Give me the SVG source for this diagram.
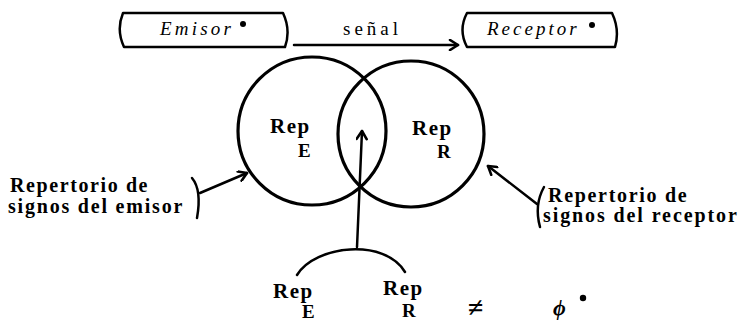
<svg xmlns="http://www.w3.org/2000/svg" width="742" height="323" viewBox="0 0 742 323">
<style>
.ln{fill:none;stroke:#000;stroke-width:2.5;stroke-linecap:round;stroke-linejoin:round}
.c{fill:none;stroke:#000;stroke-width:3.2}
.box{fill:none;stroke:#000;stroke-width:2.5;stroke-linejoin:round}
text{font-family:'Liberation Serif','DejaVu Serif',serif;fill:#000}
.it{font-style:italic;font-size:19px}
.rep{font-weight:bold;font-size:21px;letter-spacing:1.5px}
.sub{font-weight:bold;font-size:19px}
.lab{font-weight:bold;font-size:20px}
</style>
<defs>
<marker id="ah" viewBox="0 0 12 12" refX="10" refY="6" markerWidth="12" markerHeight="12" markerUnits="userSpaceOnUse" orient="auto">
<path d="M2,1 L10,6 L2,11" fill="none" stroke="#000" stroke-width="2.6" stroke-linecap="round" stroke-linejoin="round"/>
</marker>
</defs>
<g id="emisor">
<path class="box" d="M123,13 L283,13 Q291,30 285,47 L124,47 Q116,30 123,13 Z"/>
<text class="it" x="160" y="35" letter-spacing="3.2">Emisor</text>
<circle cx="243" cy="24" r="3"/>
</g>
<g id="receptor">
<path class="box" d="M467,13 L612,13 Q620,30 615,47 L467,47 Q458,30 467,13 Z"/>
<text class="it" x="487" y="35" letter-spacing="3">Receptor</text>
<circle cx="592" cy="25" r="3"/>
</g>
<g id="repE">
<circle class="c" cx="312" cy="131" r="74"/>
<text class="rep" x="270" y="133">Rep</text>
<text class="sub" x="298" y="157">E</text>
</g>
<g id="repR">
<circle class="c" cx="411" cy="134" r="73"/>
<text class="rep" x="412" y="135">Rep</text>
<text class="sub" x="437" y="158">R</text>
</g>
<g id="label-emisor">
<text class="lab" x="10" y="192" letter-spacing="1.6">Repertorio de</text>
<text class="lab" x="8" y="213" letter-spacing="1.8">signos del emisor</text>
<path class="ln" d="M192,178 Q202,190 197,218" stroke-width="3"/>
</g>
<g id="label-receptor">
<text class="lab" x="548" y="202" letter-spacing="1.7">Repertorio de</text>
<text class="lab" x="543" y="222" letter-spacing="1.9">signos del receptor</text>
<path class="ln" d="M544,187 Q534,205 540,227" stroke-width="3"/>
</g>
<g id="interseccion">
<path class="ln" d="M297,275 C315,245 385,238 405,272" stroke-width="3.2"/>
<text class="rep" x="273" y="298">Rep</text>
<text class="sub" x="302" y="318">E</text>
<text class="rep" x="383" y="295">Rep</text>
<text class="sub" x="402" y="317">R</text>
</g>
<g id="formula">
<text x="468" y="317" font-size="28" font-weight="bold">≠</text>
<text x="553" y="315" font-size="22" font-style="italic" font-weight="bold">ϕ</text>
<circle cx="583" cy="298" r="3.2"/>
</g>
<g id="connectors">
<line class="ln" x1="294" y1="45" x2="458" y2="45" marker-end="url(#ah)"/>
<text x="343" y="35" font-size="19" letter-spacing="4">señal</text>
<line class="ln" x1="357" y1="247" x2="362" y2="131" marker-end="url(#ah)"/>
<line class="ln" x1="200" y1="193" x2="247" y2="173" marker-end="url(#ah)"/>
<line class="ln" x1="537" y1="204" x2="488" y2="166" marker-end="url(#ah)"/>
</g>
</svg>
